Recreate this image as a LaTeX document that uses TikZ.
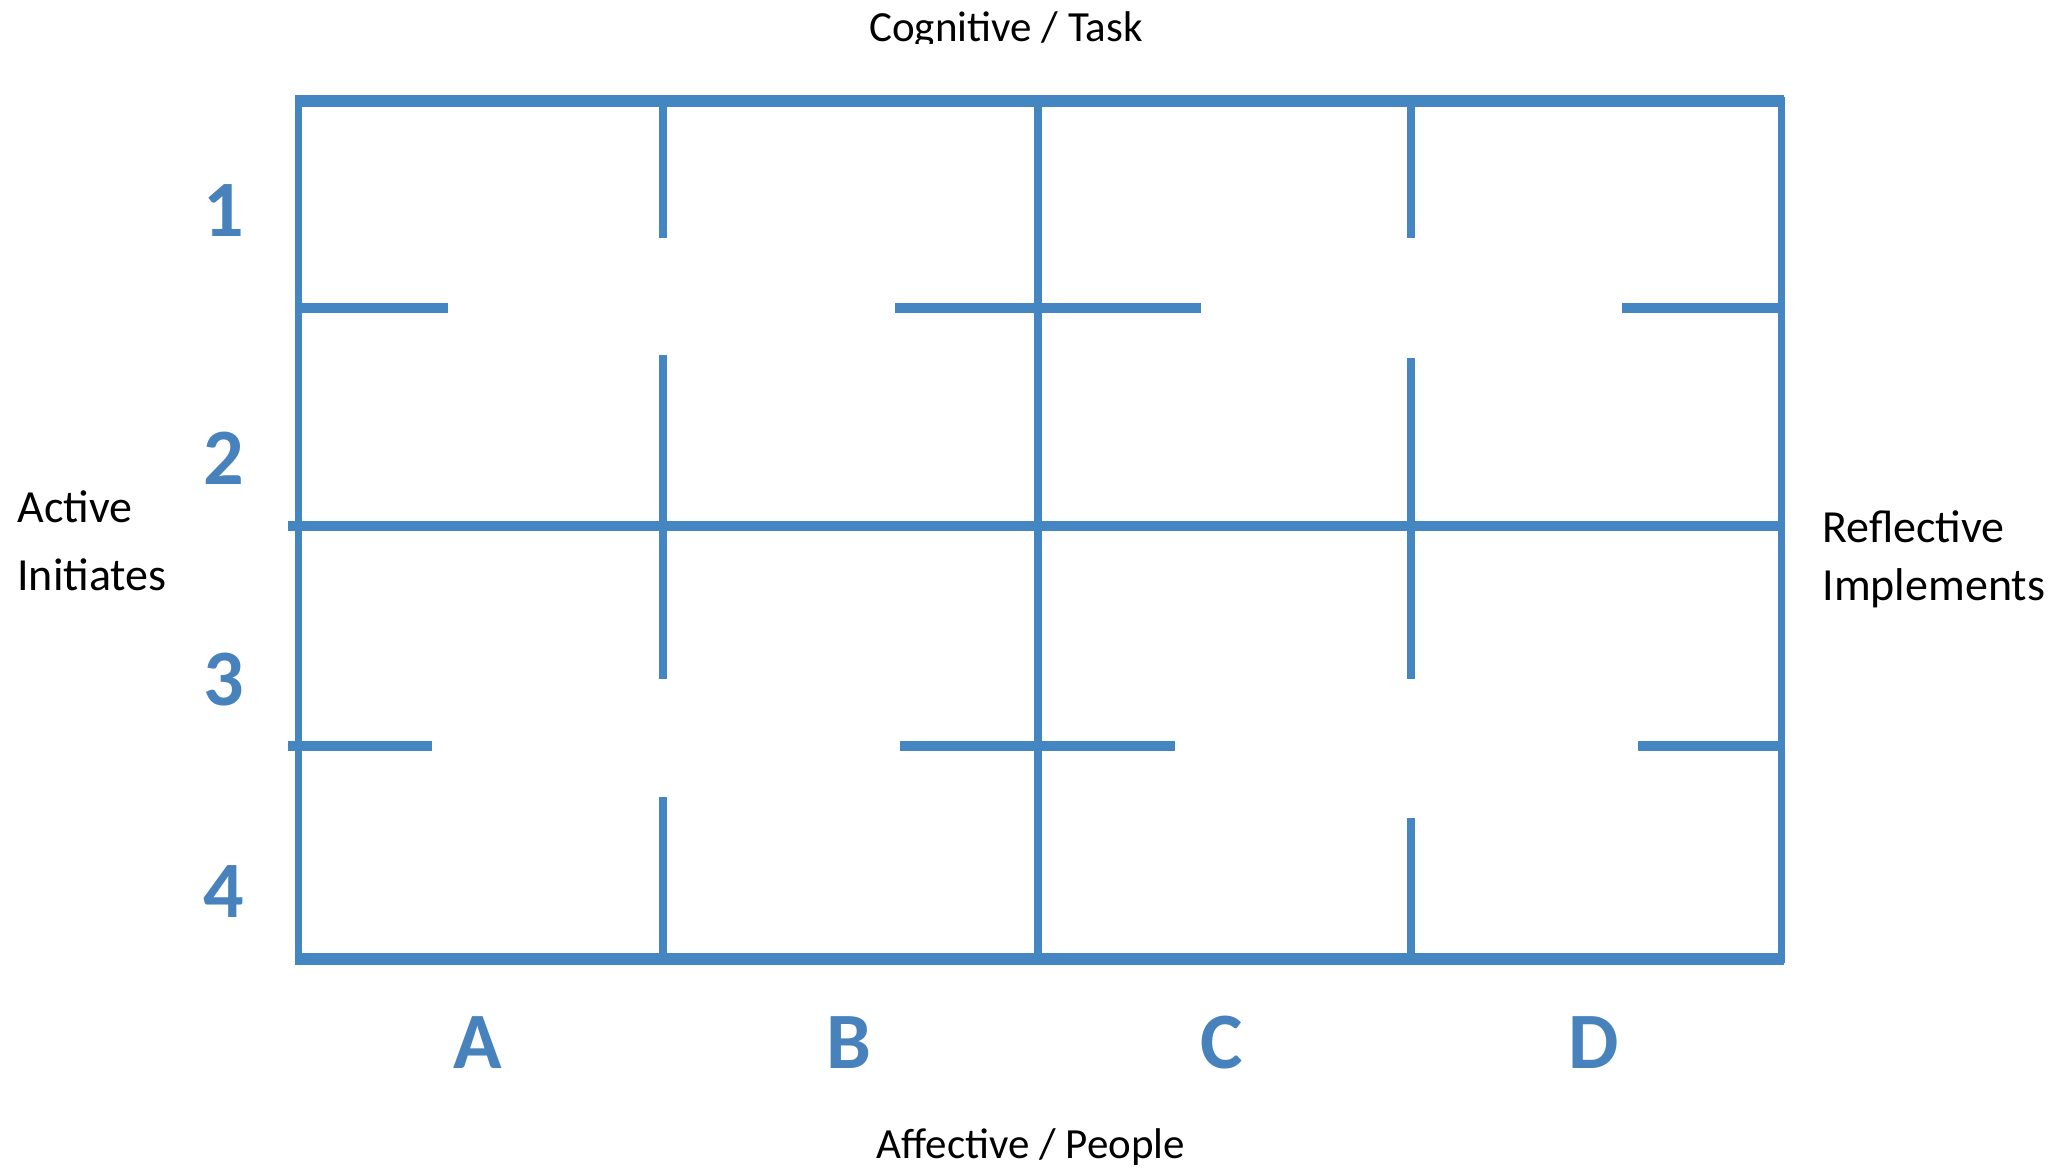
\documentclass[tikz,border=0pt]{standalone}
\usepackage{fontspec}
\setmainfont{Carlito}
\definecolor{gridblue}{RGB}{68,134,194}
\definecolor{markblue}{RGB}{72,130,188}
\begin{document}
\begin{tikzpicture}[x=0.5pt,y=-0.5pt,
  frame/.style={draw=gridblue,line width=3.5pt},
  frameedge/.style={draw=gridblue,line width=5.8pt},
  divider/.style={draw=gridblue,line width=4pt},
  ledge/.style={draw=gridblue,line width=5pt},
  axislabel/.style={font=\fontsize{21.5pt}{25pt}\selectfont,text=black,inner sep=0pt},
  sidelabel/.style={font=\fontsize{23pt}{27pt}\selectfont,text=black,inner sep=0pt,anchor=base west},
  marklabel/.style={font=\fontsize{40pt}{48pt}\selectfont\bfseries,text=markblue,inner sep=0pt,anchor=base}]
\useasboundingbox[fill=white] (0,0) rectangle (2054,1170);
% coordinates of the grid
\coordinate (tl) at (298,101);
\coordinate (tr) at (1781,101);
\coordinate (bl) at (298,959);
\coordinate (br) at (1781,959);
% outer frame
\draw[frame] (tl) rectangle (br);
\draw[frameedge] (295,101) -- (1784,101);
\draw[frameedge] (295,959) -- (1784,959);
% middle horizontal
\coordinate (ml) at (288,526);
\coordinate (mr) at (1781,526);
\draw[ledge] (ml) -- (mr);
% central vertical
\coordinate (ct) at (1038,101);
\coordinate (cb) at (1038,959);
\draw[divider] (ct) -- (cb);
% vertical at A|B
\draw[divider] (663,101) -- (663,238);
\draw[divider] (663,355) -- (663,679);
\draw[divider] (663,797) -- (663,959);
% vertical at C|D
\draw[divider] (1411,101) -- (1411,238);
\draw[divider] (1411,358) -- (1411,679);
\draw[divider] (1411,818) -- (1411,959);
% partial horizontals between rows 1 and 2
\draw[ledge] (298,308) -- (448,308);
\draw[ledge] (895,308) -- (1201,308);
\draw[ledge] (1622,308) -- (1781,308);
% partial horizontals between rows 3 and 4
\draw[ledge] (288,746) -- (432,746);
\draw[ledge] (900,746) -- (1175,746);
\draw[ledge] (1638,746) -- (1781,746);
% row numbers
\node[marklabel] (r1) at (224,237) {1};
\node[marklabel] (r2) at (224,485) {2};
\node[marklabel] (r3) at (224,705) {3};
\node[marklabel] (r4) at (224,917) {4};
% column letters
\node[marklabel] (cA) at (478,1068) {A};
\node[marklabel] (cB) at (849,1068) {B};
\node[marklabel] (cC) at (1222,1068) {C};
\node[marklabel] (cD) at (1594,1068) {D};
% axis labels
\begin{scope}
\clip (0,0) rectangle (2054,44);
\node[axislabel,anchor=base] (top) at (1006,42) {Cognitive / Task};
\end{scope}
\node[axislabel,anchor=base] (bottom) at (1031,1158) {Affective / People};
\node[sidelabel] (act) at (17,523) {Active};
\node[sidelabel] (ini) at (17,590) {Initiates};
\node[sidelabel] (ref) at (1822,542) {Reflective};
\node[sidelabel] (imp) at (1822,600) {Implements};
\end{tikzpicture}
\end{document}
